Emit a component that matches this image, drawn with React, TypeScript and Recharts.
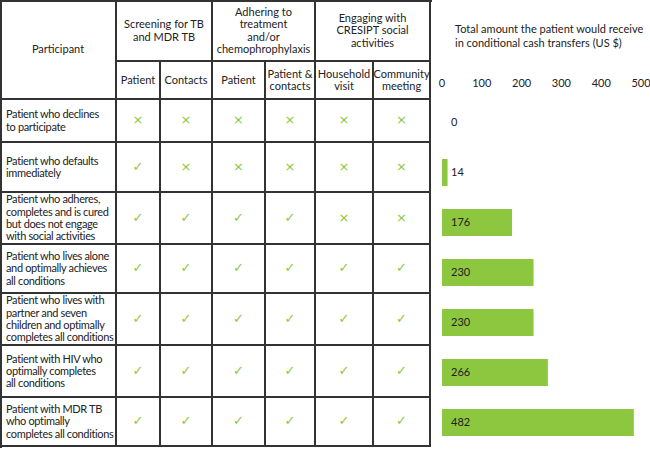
import { BarChart, Bar, XAxis, YAxis, LabelList } from "recharts";

const FONT = "Lato, 'Open Sans', sans-serif";
const GREEN = "#8DC63F";
const LINE = "2px solid #333";

// participants (rows), in order top to bottom
const participants = [
  "Patient who declines\nto participate",
  "Patient who defaults\nimmediately",
  "Patient who adheres,\ncompletes and is cured\nbut does not engage\nwith social activities",
  "Patient who lives alone\nand optimally achieves\nall conditions",
  "Patient who lives with\npartner and seven\nchildren and optimally\ncompletes all conditions",
  "Patient with HIV who\noptimally completes\nall conditions",
  "Patient with MDR TB\nwho optimally\ncompletes all conditions",
];

const groups = [
  "Screening for TB\nand MDR TB",
  "Adhering to\ntreatment\nand/or\nchemophrophylaxis",
  "Engaging with\nCRESIPT social\nactivities",
];

const conditions = [
  "Patient",
  "Contacts",
  "Patient",
  "Patient &\ncontacts",
  "Household\nvisit",
  "Community\nmeeting",
];

// true = condition met (tick), false = not met (cross)
const met = [
  [false, false, false, false, false, false],
  [true, false, false, false, false, false],
  [true, true, true, true, false, false],
  [true, true, true, true, true, true],
  [true, true, true, true, true, true],
  [true, true, true, true, true, true],
  [true, true, true, true, true, true],
];

// total conditional cash transfers, US $
const amounts = [0, 14, 176, 230, 230, 266, 482];
const xTicks = [0, 100, 200, 300, 400, 500];

// table grid
const colX = [1, 117, 161, 213, 266, 316, 374, 431];
const rowY = [100, 143, 193, 245, 294, 346, 398, 447];
const headY = [1, 62, 100];

function Cell({
  x0, x1, y0, y1, align = "center", children,
}: {
  x0: number; x1: number; y0: number; y1: number;
  align?: "center" | "left"; children: React.ReactNode;
}) {
  const left = align === "left";
  return (
    <div
      style={{
        position: "absolute",
        left: x0,
        top: y0,
        width: x1 - x0,
        height: y1 - y0,
        boxSizing: "border-box",
        borderRight: LINE,
        borderBottom: LINE,
        display: "flex",
        alignItems: "center",
        justifyContent: left ? "flex-start" : "center",
        textAlign: align,
        whiteSpace: left ? "pre" : "pre-line",
        letterSpacing: left ? "-0.35px" : 0,
        padding: left ? "0 0 0 5px" : 0,
        lineHeight: "12.3px",
      }}
    >
      {children}
    </div>
  );
}

function Mark({ ok }: { ok: boolean }) {
  return ok ? (
    <span style={{ color: GREEN, fontSize: 13, fontFamily: "DejaVu Sans" }}>✓</span>
  ) : (
    <span style={{ color: GREEN, fontSize: 13, fontFamily: "DejaVu Sans" }}>×</span>
  );
}

function Table() {
  return (
    <div
      style={{
        position: "absolute",
        left: 0,
        top: 0,
        width: 432,
        height: 448,
        fontFamily: FONT,
        fontSize: 11,
        color: "#222",
      }}
    >
      <div style={{ position: "absolute", left: 0, top: 0, width: 432, height: 2, background: "#333" }} />
      <div style={{ position: "absolute", left: 0, top: 0, width: 2, height: 448, background: "#333" }} />
      <Cell x0={colX[0]} x1={colX[1]} y0={headY[0]} y1={headY[2]}>Participant</Cell>
      {groups.map((g, i) => (
        <Cell key={g} x0={colX[1 + i * 2]} x1={colX[3 + i * 2]} y0={headY[0]} y1={headY[1]}>
          {g}
        </Cell>
      ))}
      {conditions.map((c, i) => (
        <Cell key={i} x0={colX[i + 1]} x1={colX[i + 2]} y0={headY[1]} y1={headY[2]}>
          {c}
        </Cell>
      ))}
      {participants.map((p, r) => (
        <div key={r}>
          <Cell x0={colX[0]} x1={colX[1]} y0={rowY[r]} y1={rowY[r + 1]} align="left">
            {p}
          </Cell>
          {met[r].map((ok, c) => (
            <Cell key={c} x0={colX[c + 1]} x1={colX[c + 2]} y0={rowY[r]} y1={rowY[r + 1]}>
              <Mark ok={ok} />
            </Cell>
          ))}
        </div>
      ))}
    </div>
  );
}

const BarValue = (props: any) => {
  const vb = props.viewBox || {};
  const x = props.x ?? vb.x;
  const y = props.y ?? vb.y;
  const h = props.height ?? vb.height;
  if (x == null || y == null) return null;
  return (
    <text
      x={Number(x) + 9}
      y={Number(y) + Number(h) / 2}
      dy="0.35em"
      fill="#222"
      fontSize={11}
      fontFamily={FONT}
    >
      {props.value}
    </text>
  );
};

export default function App() {
  const data = participants.map((p, i) => ({ name: p, amount: amounts[i] }));
  return (
    <div
      style={{
        position: "absolute",
        left: 0,
        top: 0,
        width: 650,
        height: 449,
        background: "#fff",
        overflow: "hidden",
      }}
    >
      <Table />
      <div
        style={{
          position: "absolute",
          left: 455,
          top: 22,
          fontFamily: FONT,
          fontSize: 11,
          lineHeight: "14px",
          color: "#222",
          whiteSpace: "nowrap",
        }}
      >
        Total amount the patient would receive
        <br />
        in conditional cash transfers (US $)
      </div>
      <div style={{ position: "absolute", left: 431, top: 0 }}>
        <BarChart
          width={219}
          height={449}
          layout="vertical"
          data={data}
          margin={{ top: 77, right: 9, bottom: 2, left: 11 }}
          barSize={27}
        >
          <XAxis
            type="number"
            orientation="top"
            height={20}
            domain={[0, 500]}
            ticks={xTicks}
            interval={0}
            axisLine={false}
            tickLine={false}
            tickMargin={4}
            tick={{ fontSize: 11, fill: "#222", fontFamily: FONT }}
          />
          <YAxis
            type="category"
            dataKey="name"
            width={0}
            tick={false}
            tickLine={false}
            axisLine={{ stroke: "#222", strokeWidth: 1.5 }}
          />
          <Bar dataKey="amount" fill={GREEN} minPointSize={0.01} isAnimationActive={false}>
            <LabelList dataKey="amount" content={BarValue} />
          </Bar>
        </BarChart>
      </div>
    </div>
  );
}
